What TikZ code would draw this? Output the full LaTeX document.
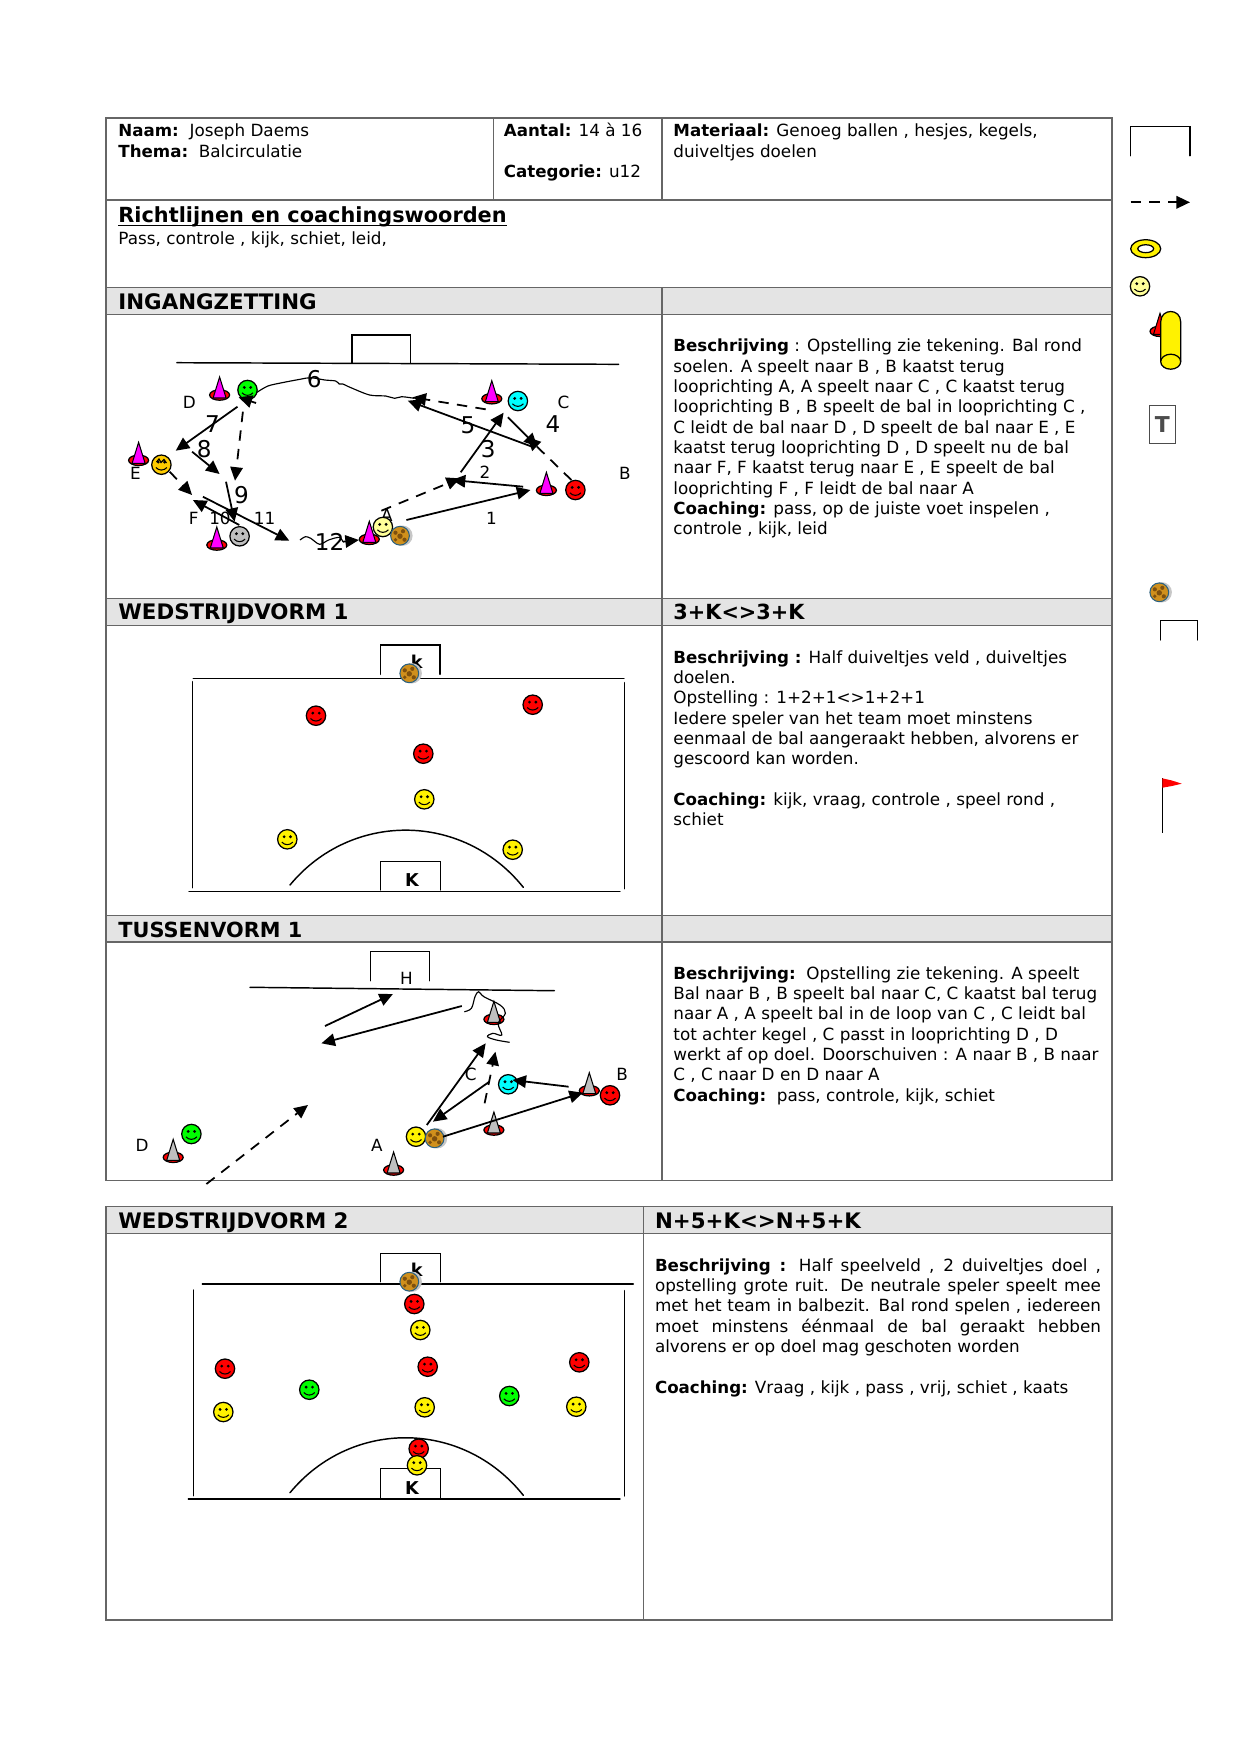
\documentclass[tikz,border=0pt]{standalone}
\usepackage{fontspec}
\setmainfont{DejaVu Sans}[Scale=1.008,BoldFeatures={Scale=1}]
\usepackage{tikz}
\usetikzlibrary{
  arrows.meta,
  shapes.geometric,
  positioning
}
\definecolor{cellline}{HTML}{666666}
\definecolor{headfill}{HTML}{E4E4E4}
\definecolor{paleface}{HTML}{FFFF99}
\definecolor{orangeface}{HTML}{FFCC00}
\definecolor{conepink}{HTML}{FF00FF}
\definecolor{skyface}{HTML}{00FFFF}
\definecolor{limeface}{HTML}{00FF00}
\definecolor{ballskin}{HTML}{D0901C}
\definecolor{ballpatch}{HTML}{7E500E}
\definecolor{balledge}{HTML}{2A6080}
\newcommand\descfont{\fontsize{8}{9.75}\selectfont}
\newcommand\jline[1]{\makebox[214.1pt][s]{#1}}
\tikzset{
  cell/.style={draw=cellline,line width=.65pt},
  headbar/.style={cell,fill=headfill},
  plain/.style={anchor=base west,inner sep=0pt,font=\descfont},
  descr/.style={anchor=north west,inner sep=0pt,font=\descfont},
  headtext/.style={anchor=base west,inner sep=0pt,font=\bfseries\fontsize{10}{12}\selectfont},
  headwide/.style={headtext,font=\bfseries\fontsize{10.25}{12}\selectfont},
  tag/.style={inner sep=0pt,font=\fontsize{8}{9.75}\selectfont},
  bignum/.style={inner sep=0pt,font=\fontsize{11}{13}\selectfont},
  goaltag/.style={inner sep=0pt,font=\bfseries\fontsize{8.5}{10}\selectfont},
  field/.style={line width=.7pt,line cap=round},
  wiggle/.style={line width=.55pt},
  passline/.style={line width=.85pt,-{Triangle[length=6.5pt,width=6pt]}},
  runline/.style={passline,dash pattern=on 5pt off 4pt},
  face/.style={circle,draw=black,line width=.6pt,minimum size=9.3pt,inner sep=0pt},
  conebase/.style={ellipse,draw=black,line width=.6pt,fill=red,minimum width=9.6pt,minimum height=5pt,inner sep=0pt}
}
% speler, kegel en bal
\newcommand\playerface[4]{
  \node[face,fill=#4] (#1) at (#2,#3) {};
  \fill (#2-3.2,#3-2.6) circle[radius=.75pt];
  \fill (#2+3.2,#3-2.6) circle[radius=.75pt];
  \draw[line width=.5pt] (#2-5.5,#3+2.8) .. controls (#2-2.5,#3+6.2) and (#2+2.5,#3+6.2) .. (#2+5.5,#3+2.8);
}
\newcommand\conemark[4]{
  \node[conebase] (#1) at (#2,#3) {};
  \draw[line width=.5pt,fill=#4] (#2-6.5,#3+3) -- (#2,#3-18) -- (#2+6.5,#3+3) -- cycle;
}
\newcommand\ballmark[3]{
  \fill[black!22] (#2+2.4,#3) circle[radius=4.9pt];
  \node[circle,draw=balledge,line width=.5pt,fill=ballskin,minimum size=9pt,inner sep=0pt] (#1) at (#2,#3) {};
  \fill[ballpatch] (#2-4.5,#3-3) circle[radius=1pt];
  \fill[ballpatch] (#2+3,#3-4.5) circle[radius=1pt];
  \fill[ballpatch] (#2,#3+.5) circle[radius=1.3pt];
  \fill[ballpatch] (#2-4.5,#3+4) circle[radius=.9pt];
  \fill[ballpatch] (#2+4.5,#3+4) circle[radius=1pt];
}
\begin{document}
\begin{tikzpicture}[x=.48pt,y=-.48pt,every text node part/.style={align=left}]
  \useasboundingbox (0,0) rectangle (1241,1754);
  % tabel
  \draw[cell] (106,118) rectangle (1112,200);
  \draw[cell] (493.5,118) -- (493.5,200);
  \draw[cell] (662,118) -- (662,200);
  \draw[cell] (106,200) rectangle (1112,287.5);
  \draw[headbar] (106,287.5) rectangle (1112,314.5);
  \draw[cell] (106,314.5) rectangle (1112,598.5);
  \draw[headbar] (106,598.5) rectangle (1112,625.5);
  \draw[cell] (106,625.5) rectangle (1112,915.5);
  \draw[headbar] (106,915.5) rectangle (1112,942);
  \draw[cell] (106,942) rectangle (1112,1180.5);
  \draw[cell] (662,287.5) -- (662,1180.5);
  \draw[headbar] (106,1206.5) rectangle (1112,1233.5);
  \draw[cell] (106,1233.5) rectangle (1112,1620);
  \draw[cell] (643.5,1206.5) -- (643.5,1620);
  % kop
  \node[plain] (naam) at (118,136.7) {\textbf{Naam:}\ \ Joseph Daems};
  \node[plain] (thema) at (118,157) {\textbf{Thema:}\ \ Balcirculatie};
  \node[plain] (aantal) at (503.5,136.7) {\textbf{Aantal:} 14 à 16};
  \node[plain] (categorie) at (503.5,177.3) {\textbf{Categorie:} u12};
  \node[plain] (materiaal) at (673,136.7) {\textbf{Materiaal:} Genoeg ballen , hesjes, kegels,};
  \node[plain] (doelen) at (673,157) {duiveltjes doelen};
  \node[headtext] (richtlijnen) at (118,222) {Richtlijnen en coachingswoorden};
  \draw[line width=.8pt] ([yshift=-1.7pt]richtlijnen.base west) -- ([yshift=-1.7pt]richtlijnen.base east);
  \node[plain] (woorden) at (118,244) {Pass, controle , kijk, schiet, leid,};
  \node[headwide] (h1) at (118,309) {INGANGZETTING};
  \node[headwide] (h2) at (118,619.8) {WEDSTRIJDVORM 1};
  \node[headtext] (h2r) at (673,619.8) {3+K<>3+K};
  \node[headtext] (h3) at (118,937.6) {TUSSENVORM 1};
  \node[headwide] (h4) at (118,1228.5) {WEDSTRIJDVORM 2};
  \node[headwide] (h4r) at (654.6,1228.5) {N+5+K<>N+5+K};
  % beschrijvingen
  \node[descr] (d1) at (673,338.8) {\textbf{Beschrijving} : Opstelling zie tekening. Bal rond\\
    soelen. A speelt naar B , B kaatst terug\\
    looprichting A, A speelt naar C , C kaatst terug\\
    looprichting B , B speelt de bal in looprichting C ,\\
    C leidt de bal naar D , D speelt de bal naar E , E\\
    kaatst terug looprichting D , D speelt nu de bal\\
    naar F, F kaatst terug naar E , E speelt de bal\\
    looprichting F , F leidt de bal naar A\\
    \textbf{Coaching:} pass, op de juiste voet inspelen ,\\
    controle , kijk, leid};
  \node[descr] (d2) at (673,650) {\textbf{Beschrijving :} Half duiveltjes veld , duiveltjes\\
    doelen.\\
    Opstelling : 1+2+1<>1+2+1\\
    Iedere speler van het team moet minstens\\
    eenmaal de bal aangeraakt hebben, alvorens er\\
    gescoord kan worden.\\
    ~\\
    \textbf{Coaching:} kijk, vraag, controle , speel rond ,\\
    schiet};
  \node[descr] (d3) at (673,966) {\textbf{Beschrijving:}\ \ Opstelling zie tekening. A speelt\\
    Bal naar B , B speelt bal naar C, C kaatst bal terug\\
    naar A , A speelt bal in de loop van C , C leidt bal\\
    tot achter kegel , C passt in looprichting D , D\\
    werkt af op doel. Doorschuiven : A naar B , B naar\\
    C , C naar D en D naar A\\
    \textbf{Coaching:}\ \ pass, controle, kijk, schiet};
  \node[descr] (d4) at (654.6,1258) {\jline{\textbf{Beschrijving :} Half speelveld , 2 duiveltjes doel ,}\\
    \jline{opstelling grote ruit. De neutrale speler speelt mee}\\
    \jline{met het team in balbezit. Bal rond spelen , iedereen}\\
    \jline{moet minstens éénmaal de bal geraakt hebben}\\
    alvorens er op doel mag geschoten worden\\
    ~\\
    \textbf{Coaching:} Vraag , kijk , pass , vrij, schiet , kaats};
  % ingangzetting
  \draw[field] (176.8,362.7) -- (618.6,364.3);
  \draw[field] (351.8,363) -- (351.8,335) -- (410.7,335) -- (410.7,363);
  \node[tag] (la) at (386.8,515) {A};
  \node[tag] (lb) at (625,473) {B};
  \node[tag] (lc) at (563.6,402) {C};
  \node[tag] (ld) at (189.3,402) {D};
  \node[tag] (le) at (135.4,473.3) {E};
  \node[tag] (lf) at (193.6,518) {F};
  \node[tag] (n1) at (491.4,518.3) {1};
  \node[tag] (n2) at (485,472.7) {2};
  \node[bignum] (n3) at (488.2,449.3) {3};
  \node[bignum] (n4) at (552.9,424) {4};
  \node[bignum] (n5) at (467.9,425) {5};
  \node[bignum] (n6) at (314.3,378.7) {6};
  \node[bignum] (n7) at (212.5,424) {7};
  \node[bignum] (n8) at (204.3,449.3) {8};
  \node[bignum] (n9) at (241.4,495.3) {9};
  \node[tag] (n10) at (220,518.3) {10};
  \node[tag] (n11) at (264.6,518.3) {11};
  \node[bignum] (n12) at (329.6,541.7) {12};
  \conemark{kd}{219.6}{395}{conepink}
  \conemark{kc}{491.8}{398.7}{conepink}
  \conemark{ke}{138.6}{460.3}{conepink}
  \conemark{kb}{546.4}{490.3}{conepink}
  \conemark{ka}{369.3}{539.3}{conepink}
  \conemark{kf}{216.8}{545}{conepink}
  \playerface{spd}{247.5}{390}{limeface}
  \playerface{spc}{517.9}{401}{skyface}
  \playerface{spe}{161.4}{464.7}{orangeface}
  \playerface{spb}{575.4}{490}{red}
  \playerface{spa}{382.9}{527}{paleface}
  \playerface{spf}{239.6}{536.3}{lightgray}
  \draw[wiggle] (156.5,462) -- (159,459) -- (161,462.5) -- (164,459.5) -- (166.5,463);
  \ballmark{bal1}{400}{535.7}
  \coordinate (p1a) at (406.4,520);   \coordinate (p1b) at (530.4,490);
  \coordinate (p2a) at (523.2,486.7); \coordinate (p2b) at (451.8,480);
  \coordinate (r1a) at (381.4,510.7); \coordinate (r1b) at (460,478.3);
  \coordinate (p3a) at (460.7,472.3); \coordinate (p3b) at (503.6,412.7);
  \coordinate (p4a) at (507.9,417.3); \coordinate (p4b) at (537.5,446.7);
  \coordinate (r2a) at (571.4,480);   \coordinate (r2b) at (527,437);
  \coordinate (p5a) at (532.1,446.7); \coordinate (p5b) at (407.9,400.7);
  \coordinate (r3a) at (485.7,409.3); \coordinate (r3b) at (412.5,397.3);
  \coordinate (p7a) at (237.5,406.7); \coordinate (p7b) at (175.7,450.7);
  \coordinate (p8a) at (192.1,451.7); \coordinate (p8b) at (219.6,474);
  \coordinate (r4a) at (242.9,411.7); \coordinate (r4b) at (235,480.7);
  \coordinate (p9a) at (226,481.7);   \coordinate (p9b) at (234.6,521.7);
  \coordinate (r5a) at (169.6,471.7); \coordinate (r5b) at (192.1,495);
  \coordinate (p10a) at (239.3,525);  \coordinate (p10b) at (192.9,500);
  \coordinate (p11a) at (202.9,496.7); \coordinate (p11b) at (289.3,540.7);
  \draw[passline] (p1a) -- (p1b);
  \draw[passline] (p2a) -- (p2b);
  \draw[runline] (r1a) -- (r1b);
  \draw[passline] (p3a) -- (p3b);
  \draw[passline] (p4a) -- (p4b);
  \draw[runline] (r2a) -- (r2b);
  \draw[passline] (p5a) -- (p5b);
  \draw[runline] (r3a) -- (r3b);
  \draw[passline] (p7a) -- (p7b);
  \draw[passline] (p8a) -- (p8b);
  \draw[runline] (r4a) -- (r4b);
  \draw[passline] (p9a) -- (p9b);
  \draw[runline] (r5a) -- (r5b);
  \draw[passline] (p10a) -- (p10b);
  \draw[passline] (p11a) -- (p11b);
  % dribbels
  \draw[wiggle] plot[smooth,tension=.5] coordinates {(414.3,398.3) (401.8,396.7) (394.6,398.3) (385.7,396) (369.6,395) (350,387.3) (342.9,384) (339.3,384) (335.7,381) (325,380) (310.7,377.7) (300,379.3) (282.1,382.7) (267.9,386) (257,392.3)};
  \coordinate (w1a) at (256,403); \coordinate (w1b) at (238.6,397.3);
  \draw[passline] (w1a) -- (w1b);
  \coordinate (w2a) at (342.9,541.7); \coordinate (w2b) at (358.9,540);
  \draw[wiggle] plot[smooth,tension=.5] coordinates {(300,540) (305.4,536.7) (310.7,538.3) (319.6,544.3) (328.6,540) (339.3,537.3) (w2a)};
  \draw[passline] (w2a) -- (w2b);
  % wedstrijdvorm 1
  \draw[field] (193.3,678.7) -- (624,678.7);
  \draw[field] (380.7,674.3) -- (380.7,645) -- (440,645) -- (440,674.3);
  \draw[field] (192.7,681.7) -- (192.7,887.7);
  \draw[field] (624.3,682.7) -- (624.3,888.7);
  \draw[field] (189,891.7) -- (620,891.7);
  \draw[field] (380.3,890) -- (380.3,861.3) -- (440.3,861.3) -- (440.3,890);
  \draw[field] (290,885) .. controls (350.8,811.5) and (462.5,811.5) .. (523.3,887.3);
  \node[goaltag] (k1) at (416.7,661.7) {k};
  \node[goaltag] (k2) at (412,880) {K};
  \ballmark{bal2}{409.3}{673.3}
  \playerface{r1}{316}{715.7}{red}
  \playerface{r2}{532.7}{704.7}{red}
  \playerface{r3}{423.3}{753.7}{red}
  \playerface{g1}{424.3}{799.3}{yellow}
  \playerface{g2}{287.3}{839.3}{yellow}
  \playerface{g3}{512.7}{849.7}{yellow}
  % tussenvorm 1
  \draw[field] (250,987.3) -- (554.3,990.7);
  \draw[field] (370.4,980.7) -- (370.4,951.7) -- (429.3,951.7) -- (429.3,980.7);
  \node[tag] (th) at (406.4,978.3) {H};
  \node[tag] (tb) at (622.1,1074) {B};
  \node[tag] (tc) at (470.7,1074.3) {C};
  \node[tag] (td) at (142.1,1145.7) {D};
  \node[tag] (ta) at (376.8,1145.7) {A};
  \conemark{t1}{493.9}{1019.3}{lightgray}
  \conemark{t2}{493.9}{1130}{lightgray}
  \conemark{t3}{589.3}{1090.7}{lightgray}
  \conemark{t4}{173.2}{1157.3}{lightgray}
  \conemark{t5}{393.6}{1170}{lightgray}
  \playerface{tspb}{610}{1095.3}{red}
  \playerface{tspc}{508.2}{1084.3}{skyface}
  \playerface{tspa}{416}{1136.7}{yellow}
  \playerface{tspd}{191.4}{1134}{limeface}
  \ballmark{bal3}{434.6}{1138.3}
  \coordinate (q1a) at (325,1026);     \coordinate (q1b) at (392.9,994);
  \coordinate (q2a) at (461.8,1006);   \coordinate (q2b) at (321.4,1043.3);
  \coordinate (q3a) at (426.8,1125);   \coordinate (q3b) at (485.7,1043.3);
  \coordinate (q4a) at (489.3,1081.7); \coordinate (q4b) at (432.9,1121.7);
  \coordinate (q5a) at (484.6,1103.3); \coordinate (q5b) at (495.4,1051.7);
  \coordinate (q6a) at (568.6,1086.7); \coordinate (q6b) at (512.5,1080);
  \coordinate (q7a) at (442.9,1136.7); \coordinate (q7b) at (582.9,1092.7);
  \coordinate (q8a) at (206.4,1184);   \coordinate (q8b) at (307.9,1105);
  \draw[passline] (q1a) -- (q1b);
  \draw[passline] (q2a) -- (q2b);
  \draw[passline] (q3a) -- (q3b);
  \draw[passline] (q4a) -- (q4b);
  \draw[runline] (q5a) -- (q5b);
  \draw[passline] (q6a) -- (q6b);
  \draw[passline] (q7a) -- (q7b);
  \draw[runline] (q8a) -- (q8b);
  \draw[wiggle] plot[smooth,tension=.6] coordinates {(464.3,1011.7) (471.4,1008.3) (475,996.7) (478.6,991.7) (483.9,996.7) (500,1005) (505.4,1013.3) (498.2,1023.3) (501.8,1035) (492.9,1033.3) (487.5,1036.7) (496.4,1040) (509.6,1042.3)};
  % wedstrijdvorm 2
  \draw[field] (202.3,1284) -- (633.3,1284);
  \draw[field] (380.3,1281.7) -- (380.3,1253.3) -- (440.3,1253.3) -- (440.3,1281.7);
  \draw[field] (193.3,1290) -- (193.3,1495.7);
  \draw[field] (624.3,1290.7) -- (624.3,1496);
  \draw[field] (188.3,1499) -- (620,1499);
  \draw[field] (380.3,1498.3) -- (380.3,1468.3) -- (440.3,1468.3) -- (440.3,1498.3);
  \draw[field] (290,1492.7) .. controls (350.8,1419) and (462.5,1419) .. (523.3,1495.3);
  \node[goaltag] (k3) at (416.7,1270) {k};
  \node[goaltag] (k4) at (412,1488) {K};
  \ballmark{bal4}{409.3}{1281.7}
  \playerface{w1}{414.3}{1304}{red}
  \playerface{w2}{420.3}{1330}{yellow}
  \playerface{w3}{225}{1368.7}{red}
  \playerface{w4}{223.3}{1412}{yellow}
  \playerface{w5}{309.3}{1389.7}{limeface}
  \playerface{w6}{427.7}{1366.7}{red}
  \playerface{w7}{424.7}{1407.3}{yellow}
  \playerface{w8}{509.3}{1396}{limeface}
  \playerface{w9}{579.3}{1362.3}{red}
  \playerface{w10}{576.3}{1406.7}{yellow}
  \playerface{w11}{418.7}{1448.7}{red}
  \playerface{w12}{417}{1465.3}{yellow}
  % legende rechts
  \draw[field] (1130.3,155.7) -- (1130.3,126.7) -- (1190,126.7) -- (1190,155.7);
  \coordinate (lega) at (1130.7,202.3); \coordinate (legb) at (1190,202.3);
  \draw[runline] (lega) -- (legb);
  \node[ellipse,draw=black,line width=.6pt,fill=yellow,minimum width=14.4pt,minimum height=8.6pt,inner sep=0pt] (ring) at (1145.7,248.7) {};
  \node[ellipse,draw=black,line width=.6pt,fill=white,minimum width=7.6pt,minimum height=3.8pt,inner sep=0pt] (gat) at (1145.7,248.7) {};
  \playerface{legface}{1140}{286.3}{paleface}
  \conemark{legcone}{1160}{331.3}{red}
  \draw[line width=.6pt,fill=yellow] (1160.7,361) -- (1160.7,322) .. controls (1160.7,308) and (1180.7,308) .. (1180.7,322) -- (1180.7,361) -- cycle;
  \node[ellipse,draw=black,line width=.6pt,fill=yellow,minimum width=9.6pt,minimum height=7.2pt,inner sep=0pt] (legvoet) at (1170.7,361.7) {};
  \node[draw=black!70,line width=.5pt,minimum width=12.5pt,minimum height=17.9pt,inner sep=0pt,text=black!70,font=\bfseries\fontsize{10.5}{13}\selectfont] (legt) at (1162.3,424.6) {T};
  \ballmark{bal5}{1159.3}{592.3}
  \draw[field] (1160.3,640) -- (1160.3,620.3) -- (1197.3,620.3) -- (1197.3,640);
  \draw[line width=.5pt] (1162.3,778.3) -- (1162.3,832.7);
  \fill[red] (1162.3,778.3) -- (1172,780.5) -- (1181.7,783.7) -- (1172,786) -- (1162.3,787.7) -- cycle;
\end{tikzpicture}
\end{document}
